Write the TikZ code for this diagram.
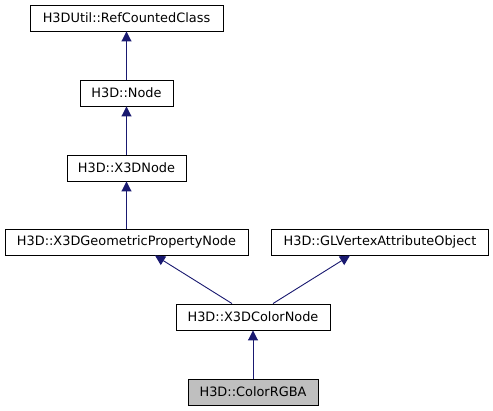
\documentclass[tikz,border=0pt]{standalone}
\usepackage{fontspec}
\setmainfont{DejaVu Sans}
\usetikzlibrary{arrows.meta}
\definecolor{edgeblue}{HTML}{191970}
\definecolor{curgray}{HTML}{BFBFBF}
\tikzset{
  classbox/.style={draw=black, line width=0.9pt, minimum height=26pt, inner sep=0pt,
    font=\fontsize{12.9}{15}\selectfont},
  inherit/.style={-{Triangle[length=10pt,width=10pt]}, draw=edgeblue, line width=0.9pt}
}
\begin{document}
\begin{tikzpicture}[x=1pt,y=-1pt]
\useasboundingbox (0,0) rectangle (493,411);
% class boxes, top to bottom
\node[classbox, minimum width=193pt] (refcounted) at (126.5,18) {H3DUtil::RefCountedClass};
\node[classbox, minimum width=93pt]  (node)       at (126.5,93) {H3D::Node};
\node[classbox, minimum width=119pt] (x3dnode)    at (126.5,168) {H3D::X3DNode};
\node[classbox, minimum width=243pt] (geomprop)   at (126.5,242) {H3D::X3DGeometricPropertyNode};
\node[classbox, minimum width=217pt] (glvertex)   at (380,242) {H3D::GLVertexAttributeObject};
\node[classbox, minimum width=154pt] (colornode)  at (253,317) {H3D::X3DColorNode};
\node[classbox, minimum width=130pt, fill=curgray] (colorrgba) at (253,392) {H3D::ColorRGBA};
% inheritance edges
\draw[inherit] (node) -- (refcounted);
\draw[inherit] (x3dnode) -- (node);
\draw[inherit] (geomprop) -- (x3dnode);
\draw[inherit] ([xshift=-21pt]colornode.north) -- ([xshift=28.5pt]geomprop.south);
\draw[inherit] ([xshift=20pt]colornode.north) -- ([xshift=-30pt]glvertex.south);
\draw[inherit] (colorrgba) -- (colornode);
\end{tikzpicture}
\end{document}
